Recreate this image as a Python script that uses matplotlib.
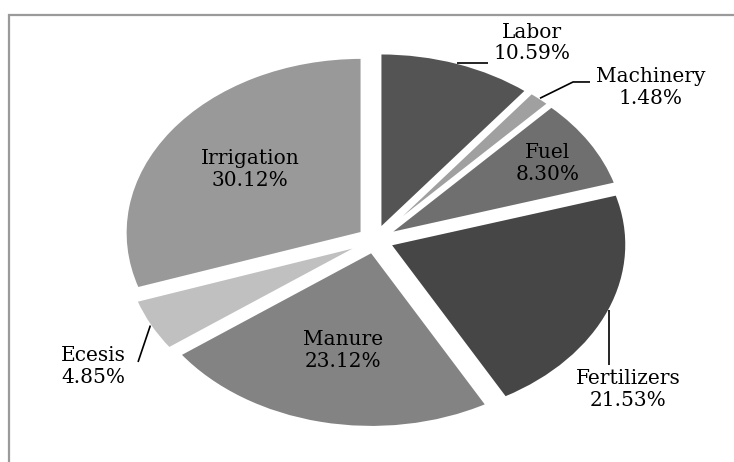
import numpy as np
import matplotlib
matplotlib.use("Agg")
import matplotlib.pyplot as plt
from matplotlib.patches import Rectangle

# ---- data ----
categories = ["Labor", "Machinery", "Fuel", "Fertilizers", "Manure", "Ecesis", "Irrigation"]
shares = [10.59, 1.48, 8.30, 21.53, 23.12, 4.85, 30.12]
slice_colors = ["#545454", "#a0a0a0", "#6f6f6f", "#464646", "#838383", "#c0c0c0", "#999999"]

# ---- layout ----
W, H = 734, 462
cx_px, cy_px = 375, 240      # pie centre (pixels from top-left)
rx_px, ry_px = 236, 175      # pie radii in pixels (ellipse)
explode_amt = 0.07

# label centre positions (data units)
label_pos = {
    "Labor": (0.665, 1.126),
    "Machinery": (1.169, 0.871),
    "Fuel": (0.733, 0.437),
    "Fertilizers": (1.072, -0.854),
    "Manure": (-0.136, -0.631),
    "Ecesis": (-1.195, -0.723),
    "Irrigation": (-0.530, 0.403),
}
# leader-line elbows; None means "keep the anchor's coordinate"
leaders = {
    "Labor": [(0.479, None)],
    "Machinery": [(0.839, 0.903), (0.911, 0.903)],
    "Fertilizers": [(None, -0.714)],
    "Ecesis": [(-1.004, -0.697)],
}

fig = plt.figure(figsize=(W / 100, H / 100), dpi=100)
ax = fig.add_axes([0, 0, 1, 1])

wedges, _ = ax.pie(
    shares,
    colors=slice_colors,
    startangle=90,
    counterclock=False,
    explode=[explode_amt] * len(shares),
    wedgeprops=dict(edgecolor="white", linewidth=1.5),
)
ax.set_aspect("auto")
ax.set_xlim(-cx_px / rx_px, (W - cx_px) / rx_px)
ax.set_ylim(-(H - cy_px) / ry_px, cy_px / ry_px)
ax.axis("off")

font = dict(family="DejaVu Serif", size=14.5, color="black")

for w, name, val in zip(wedges, categories, shares):
    mid = np.deg2rad((w.theta1 + w.theta2) / 2)
    lx, ly = label_pos[name]
    ax.text(lx, ly, f"{name}\n{val:.2f}%", ha="center", va="center",
            linespacing=1.15, **font)
    if name in leaders:
        r = 1 + explode_amt
        ax0, ay0 = r * np.cos(mid), r * np.sin(mid)
        pts = [(ax0, ay0)]
        for ex, ey in leaders[name]:
            pts.append((ax0 if ex is None else ex, ay0 if ey is None else ey))
        xs, ys = zip(*pts)
        ax.plot(xs, ys, color="black", lw=1.2, solid_capstyle="butt")

# outer frame
fig.patches.append(Rectangle((9 / W, -0.05), 1.1, 1 - 15 / H + 0.05,
                             transform=fig.transFigure, fill=False,
                             edgecolor="#9a9a9a", linewidth=1.6))

fig.savefig("out.png", dpi=100)
